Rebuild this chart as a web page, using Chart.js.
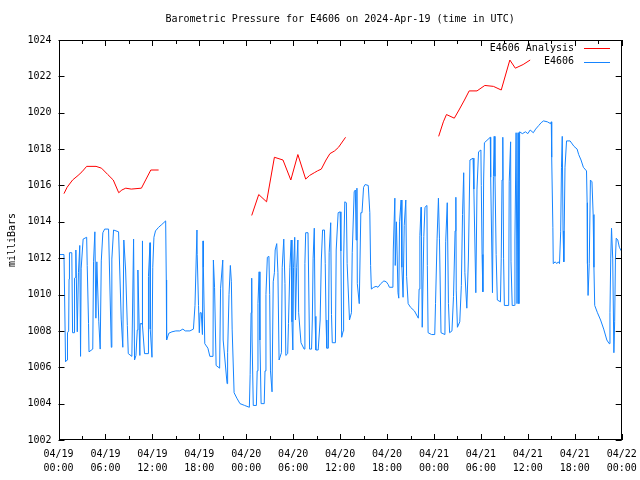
<!DOCTYPE html>
<html>
<head>
<meta charset="utf-8">
<script src="https://cdn.jsdelivr.net/npm/chart.js@4.4.1/dist/chart.umd.min.js"></script>
<style>
  body { margin: 0; background: #fff; }
  #wrap { width: 640px; height: 480px; position: relative; }
</style>
</head>
<body>
<div id="wrap"><canvas id="pressChart"></canvas></div>
<script>
// time axis (hours since 04/19 00:00 UTC)
const tickDates = ['04/19', '04/19', '04/19', '04/19', '04/20', '04/20', '04/20', '04/20', '04/21', '04/21', '04/21', '04/21', '04/22'];
const tickTimes = ['00:00', '06:00', '12:00', '18:00', '00:00', '06:00', '12:00', '18:00', '00:00', '06:00', '12:00', '18:00', '00:00'];

// E4606 Analysis (red), null = no data
const redHours = [0.7, 1.1, 1.8, 2.5, 3.0, 3.6, 4.8, 5.5, 6.3, 7.0, 7.7, 8.1, 8.6, 9.3, 10.6, 11.2, 11.8, 12.8,
  18,
  24.7, 25.6, 26.6, 27.6, 28.7, 29.7, 30.6, 31.6, 32.1, 32.7, 33.1, 33.6, 34.2, 34.7, 35.3, 35.8, 36.7,
  42,
  48.6, 49.2, 49.6, 50.6, 51.2, 51.9, 52.5, 53.5, 54.5, 55.6, 56.6, 57.7, 58.4, 59.4, 60.3];
const redPressure = [1015.55, 1015.9, 1016.3, 1016.55, 1016.75, 1017.05, 1017.05, 1016.95, 1016.6, 1016.3, 1015.6, 1015.75, 1015.85, 1015.8, 1015.85, 1016.35, 1016.85, 1016.85,
  null,
  1014.35, 1015.5, 1015.1, 1017.55, 1017.4, 1016.3, 1017.7, 1016.35, 1016.55, 1016.7, 1016.8, 1016.9, 1017.4, 1017.75, 1017.9, 1018.1, 1018.65,
  null,
  1018.7, 1019.5, 1019.9, 1019.7, 1020.15, 1020.7, 1021.2, 1021.2, 1021.5, 1021.45, 1021.25, 1022.9, 1022.45, 1022.65, 1022.9];

// E4606 station reports (blue)
const blueHours = [
  0.1, 0.7, 0.75, 0.9, 1.1, 1.15, 1.3, 1.35, 1.4, 1.7, 1.8, 2.0, 2.05, 2.2, 2.22, 2.4, 2.55, 2.72, 2.82, 2.9,
  3.15, 3.6, 3.67, 3.84, 3.9, 4.38, 4.48, 4.65, 4.78, 4.9, 5.15, 5.33, 5.47, 5.67, 5.9, 6.4, 6.75, 6.82, 7.04, 7.68,
  8.02, 8.22, 8.35, 8.58, 8.8, 8.92, 9.38, 9.6, 9.72, 9.9, 10.07, 10.15, 10.4, 10.45, 10.68, 10.72, 10.75, 11.0, 11.45, 11.5,
  11.7, 11.73, 11.95, 12.05, 12.2, 12.4, 12.8, 13.2, 13.7, 13.78, 13.82, 14.1, 14.5, 15.0, 15.5, 15.9, 16.2, 16.8, 17.25, 17.45,
  17.7, 17.73, 17.9, 18.0, 18.1, 18.25, 18.4, 18.48, 18.52, 18.7, 19.1, 19.35, 19.75, 19.8, 19.95, 20.15, 20.6, 20.72, 21.0, 21.05,
  21.55, 21.62, 21.8, 21.97, 22.1, 22.2, 22.45, 22.8, 23.2, 23.8, 24.4, 24.5, 24.62, 24.7, 24.75, 24.9, 25.3, 25.4, 25.5, 25.65,
  25.75, 25.9, 26.3, 26.4, 26.52, 26.7, 26.9, 27.0, 27.1, 27.3, 27.45, 27.6, 27.7, 27.9, 28.05, 28.2, 28.5, 28.6, 28.8, 28.95,
  29.06, 29.3, 29.4, 29.58, 29.75, 29.85, 29.96, 30.05, 30.2, 30.3, 30.45, 30.6, 30.7, 31.0, 31.4, 31.5, 31.6, 31.9, 32.1, 32.35,
  32.45, 32.55, 32.7, 32.8, 32.9, 33.2, 33.45, 33.6, 33.76, 34.0, 34.1, 34.2, 34.3, 34.5, 34.6, 34.8, 34.9, 35.0, 35.4, 35.5,
  35.75, 36.0, 36.1, 36.2, 36.4, 36.45, 36.6, 36.8, 36.9, 37.2, 37.45, 37.55, 37.8, 37.95, 38.05, 38.15, 38.2, 38.45, 38.65, 38.8,
  39.0, 39.2, 39.6, 39.8, 39.9, 40.0, 40.3, 40.6, 40.85, 41.2, 41.6, 41.9, 42.15, 42.3, 42.75, 42.8, 43.0, 43.05, 43.2, 43.4,
  43.5, 43.6, 43.8, 43.9, 44.05, 44.2, 44.4, 44.5, 44.7, 45.0, 45.5, 46.0, 46.1, 46.2, 46.35, 46.4, 46.5, 46.7, 46.85, 47.1,
  47.15, 47.25, 47.7, 48.1, 48.2, 48.4, 48.57, 48.7, 48.9, 49.4, 49.5, 49.7, 49.85, 50.0, 50.3, 50.5, 50.7, 50.8, 50.85, 51.0,
  51.3, 51.5, 51.65, 51.8, 51.95, 52.2, 52.4, 52.6, 53.0, 53.1, 53.35, 53.5, 53.7, 54.0, 54.05, 54.15, 54.25, 54.35, 54.45, 55.2,
  55.25, 55.48, 55.6, 55.7, 55.8, 55.95, 56.1, 56.5, 56.6, 56.7, 56.8, 56.9, 57.0, 57.55, 57.62, 57.8, 57.85, 58.0, 58.3, 58.35,
  58.5, 58.62, 58.75, 58.85, 58.95, 59.3, 59.7, 60.0, 60.3, 60.7, 61.0, 61.4, 61.7, 62.0, 62.5, 62.9, 63.0, 63.05, 63.2, 63.25,
  63.5, 63.7, 63.9, 64.05, 64.2, 64.3, 64.4, 64.5, 64.6, 64.75, 64.95, 65.4, 65.9, 66.3, 66.5, 66.8, 67.1, 67.5, 67.58, 67.62,
  67.7, 67.85, 68.0, 68.2, 68.35, 68.45, 68.55, 68.9, 69.3, 69.7, 70.1, 70.4, 70.5, 70.6, 70.7, 70.85, 71.0, 71.1, 71.2, 71.3,
  71.5, 71.7, 71.95];
const bluePressure = [
  1012.2, 1012.2, 1010.8, 1006.3, 1006.4, 1007.9, 1008.0, 1010.85, 1012.3, 1012.3, 1007.9, 1007.9, 1010.9, 1010.95, 1012.45, 1007.95, 1011.2, 1012.7, 1006.6, 1011.45,
  1013.05, 1013.15, 1011.6, 1008.4, 1006.85, 1007.0, 1011.8, 1013.45, 1008.7, 1011.8, 1008.5, 1007.0, 1011.85, 1013.4, 1013.6, 1013.6, 1007.1, 1011.95, 1013.55, 1013.45,
  1008.65, 1007.1, 1013.0, 1011.35, 1008.3, 1006.75, 1006.6, 1013.05, 1006.4, 1006.65, 1008.05, 1011.35, 1006.65, 1008.4, 1008.4, 1012.95, 1008.3, 1006.75, 1006.75, 1011.0,
  1012.85, 1008.1, 1006.55, 1011.5, 1013.15, 1013.5, 1013.7, 1013.85, 1014.05, 1010.8, 1007.5, 1007.87, 1007.95, 1008.0, 1008.0, 1008.1, 1008.0, 1008.0, 1008.1, 1009.4,
  1013.55, 1012.2, 1009.4, 1007.9, 1009.0, 1009.0, 1007.8, 1012.95, 1011.5, 1007.3, 1007.05, 1006.6, 1006.6, 1011.9, 1010.4, 1006.1, 1005.95, 1010.35, 1011.9, 1007.5,
  1005.1, 1006.8, 1010.0, 1011.6, 1010.7, 1008.1, 1004.6, 1004.3, 1004.0, 1003.9, 1003.8, 1005.6, 1009.0, 1010.9, 1007.5, 1003.9, 1003.9, 1005.8, 1009.5, 1011.25,
  1007.5, 1004.0, 1004.0, 1005.8, 1010.0, 1012.05, 1012.1, 1010.0, 1005.8, 1004.65, 1010.7, 1011.2, 1012.45, 1012.8, 1011.2, 1006.4, 1006.8, 1011.5, 1013.05, 1010.6,
  1006.65, 1006.75, 1008.4, 1011.5, 1013.0, 1008.5, 1006.95, 1011.5, 1013.15, 1008.6, 1011.5, 1013.0, 1009.0, 1007.35, 1007.0, 1011.7, 1013.4, 1013.4, 1007.0, 1007.0,
  1008.6, 1012.0, 1013.65, 1008.8, 1006.95, 1006.95, 1008.6, 1011.9, 1013.55, 1013.55, 1011.7, 1008.6, 1007.05, 1007.05, 1012.3, 1013.95, 1008.9, 1007.35, 1007.35, 1012.45,
  1014.5, 1014.55, 1012.4, 1007.65, 1008.0, 1011.9, 1015.1, 1015.05, 1011.7, 1008.6, 1009.0, 1012.3, 1015.65, 1015.75, 1013.0, 1015.85, 1010.6, 1009.5, 1014.5, 1014.5,
  1015.9, 1016.05, 1016.0, 1014.5, 1011.6, 1010.3, 1010.4, 1010.45, 1010.4, 1010.6, 1010.75, 1010.7, 1010.55, 1010.4, 1010.4, 1012.45, 1015.3, 1011.6, 1014.0, 1010.1,
  1009.8, 1014.0, 1015.2, 1011.5, 1009.85, 1013.8, 1015.2, 1011.0, 1009.5, 1009.3, 1009.1, 1008.7, 1010.3, 1013.25, 1014.8, 1013.2, 1008.2, 1013.2, 1014.8, 1014.9,
  1011.6, 1007.9, 1007.8, 1007.8, 1009.5, 1013.1, 1015.3, 1013.1, 1007.9, 1007.8, 1012.9, 1015.05, 1009.5, 1007.9, 1008.0, 1009.9, 1013.5, 1015.35, 1010.2, 1008.2,
  1008.5, 1010.5, 1014.4, 1016.7, 1011.2, 1009.25, 1011.9, 1017.4, 1017.5, 1015.8, 1010.1, 1015.8, 1017.85, 1017.95, 1016.0, 1012.2, 1010.15, 1016.3, 1018.35, 1018.65,
  1016.45, 1010.1, 1016.5, 1018.7, 1016.5, 1012.2, 1009.7, 1009.6, 1012.0, 1016.3, 1018.65, 1012.0, 1009.4, 1009.4, 1016.2, 1018.4, 1011.8, 1009.4, 1009.4, 1013.0,
  1018.9, 1009.5, 1018.9, 1009.5, 1018.95, 1018.85, 1018.95, 1018.85, 1019.05, 1018.9, 1019.1, 1019.3, 1019.45, 1019.55, 1019.5, 1019.4, 1019.5, 1017.55, 1013.7, 1011.7,
  1011.8, 1011.7, 1011.8, 1011.7, 1013.45, 1017.0, 1018.7, 1013.5, 1011.8, 1017.0, 1018.45, 1018.45, 1018.15, 1018.0, 1017.7, 1017.4, 1017.0, 1016.8, 1015.05, 1011.7,
  1009.95, 1011.7, 1016.3, 1016.2, 1014.4, 1011.5, 1009.4, 1009.0, 1008.6, 1008.1, 1007.5, 1007.3, 1009.0, 1012.0, 1013.65, 1012.0, 1006.8, 1008.5, 1012.0, 1013.1,
  1013.0, 1012.6, 1012.4];

const monoFont = "'DejaVu Sans Mono', 'Liberation Mono', monospace";

function toPoints(xs, ys) {
  return xs.map((x, i) => ({ x: x, y: ys[i] }));
}

// border, inward ticks, title, axis label and legend in gnuplot style
const gnuplotFrame = {
  id: 'gnuplotFrame',
  afterDraw(chart) {
    const ctx = chart.ctx;
    const area = chart.chartArea;
    const xs = chart.scales.x;
    const ys = chart.scales.y;
    ctx.save();
    ctx.strokeStyle = '#000';
    ctx.lineWidth = 1;
    ctx.strokeRect(Math.round(area.left) + 0.5, Math.round(area.top) + 0.5,
      Math.round(area.right - area.left) - 1, Math.round(area.bottom - area.top) - 1);

    ctx.beginPath();
    for (let h = 0; h <= 72; h += 3) {
      const px = Math.round(xs.getPixelForValue(h)) + 0.5;
      const len = h % 6 === 0 ? 6 : 4;
      ctx.moveTo(px, area.bottom); ctx.lineTo(px, area.bottom - len);
      ctx.moveTo(px, area.top); ctx.lineTo(px, area.top + len);
    }
    for (let v = 1002; v <= 1024; v += 2) {
      const py = Math.round(ys.getPixelForValue(v)) + 0.5;
      ctx.moveTo(area.left, py); ctx.lineTo(area.left + 6, py);
      ctx.moveTo(area.right, py); ctx.lineTo(area.right - 6, py);
    }
    ctx.stroke();

    ctx.fillStyle = '#000';
    ctx.font = '10px ' + monoFont;
    ctx.textAlign = 'center';
    ctx.textBaseline = 'middle';
    ctx.fillText('Barometric Pressure for E4606 on 2024-Apr-19 (time in UTC)', (area.left + area.right) / 2, 19);

    ctx.save();
    ctx.translate(12, (area.top + area.bottom) / 2);
    ctx.rotate(-Math.PI / 2);
    ctx.fillText('milliBars', 0, 0);
    ctx.restore();

    // legend, text right-aligned before the line sample
    ctx.textAlign = 'right';
    chart.data.datasets.forEach((ds, i) => {
      const y = 48 + i * 13.5;
      ctx.fillStyle = '#000';
      ctx.fillText(ds.label, 574, y);
      ctx.strokeStyle = ds.borderColor;
      ctx.beginPath();
      ctx.moveTo(584, Math.round(y) + 0.5);
      ctx.lineTo(610, Math.round(y) + 0.5);
      ctx.stroke();
    });
    ctx.restore();
  }
};

const ctx = document.getElementById('pressChart').getContext('2d');
new Chart(ctx, {
  type: 'line',
  data: {
    datasets: [{
      label: 'E4606 Analysis',
      data: toPoints(redHours, redPressure),
      borderColor: '#ff0000',
      borderWidth: 1,
      pointRadius: 0,
      tension: 0,
      spanGaps: false
    }, {
      label: 'E4606',
      data: toPoints(blueHours, bluePressure),
      borderColor: '#1584ff',
      borderWidth: 1,
      pointRadius: 0,
      tension: 0
    }]
  },
  options: {
    responsive: true,
    maintainAspectRatio: false,
    animation: false,
    layout: { padding: { top: 40, right: 18.3, bottom: 0, left: 0 } },
    plugins: {
      legend: { display: false },
      tooltip: { enabled: false },
      title: { display: false }
    },
    scales: {
      x: {
        type: 'linear',
        min: 0,
        max: 72,
        grid: { display: false, drawTicks: false },
        border: { display: false },
        afterFit: (s) => { s.height = 40; s.paddingLeft = 0; s.paddingRight = 0; },
        ticks: {
          stepSize: 6,
          autoSkip: false,
          maxRotation: 0,
          padding: 7,
          color: '#000',
          font: { family: monoFont, size: 10, lineHeight: 1.4 },
          callback: (v) => {
            const i = Math.round(v / 6);
            return [tickDates[i], tickTimes[i]];
          }
        }
      },
      y: {
        min: 1002,
        max: 1024,
        grid: { display: false, drawTicks: false },
        border: { display: false },
        afterFit: (s) => { s.width = 58.5; s.paddingTop = 0; s.paddingBottom = 0; },
        ticks: {
          stepSize: 2,
          padding: 7,
          color: '#000',
          font: { family: monoFont, size: 10 },
          callback: (v) => String(v)
        }
      }
    }
  },
  plugins: [gnuplotFrame]
});
</script>
</body>
</html>
